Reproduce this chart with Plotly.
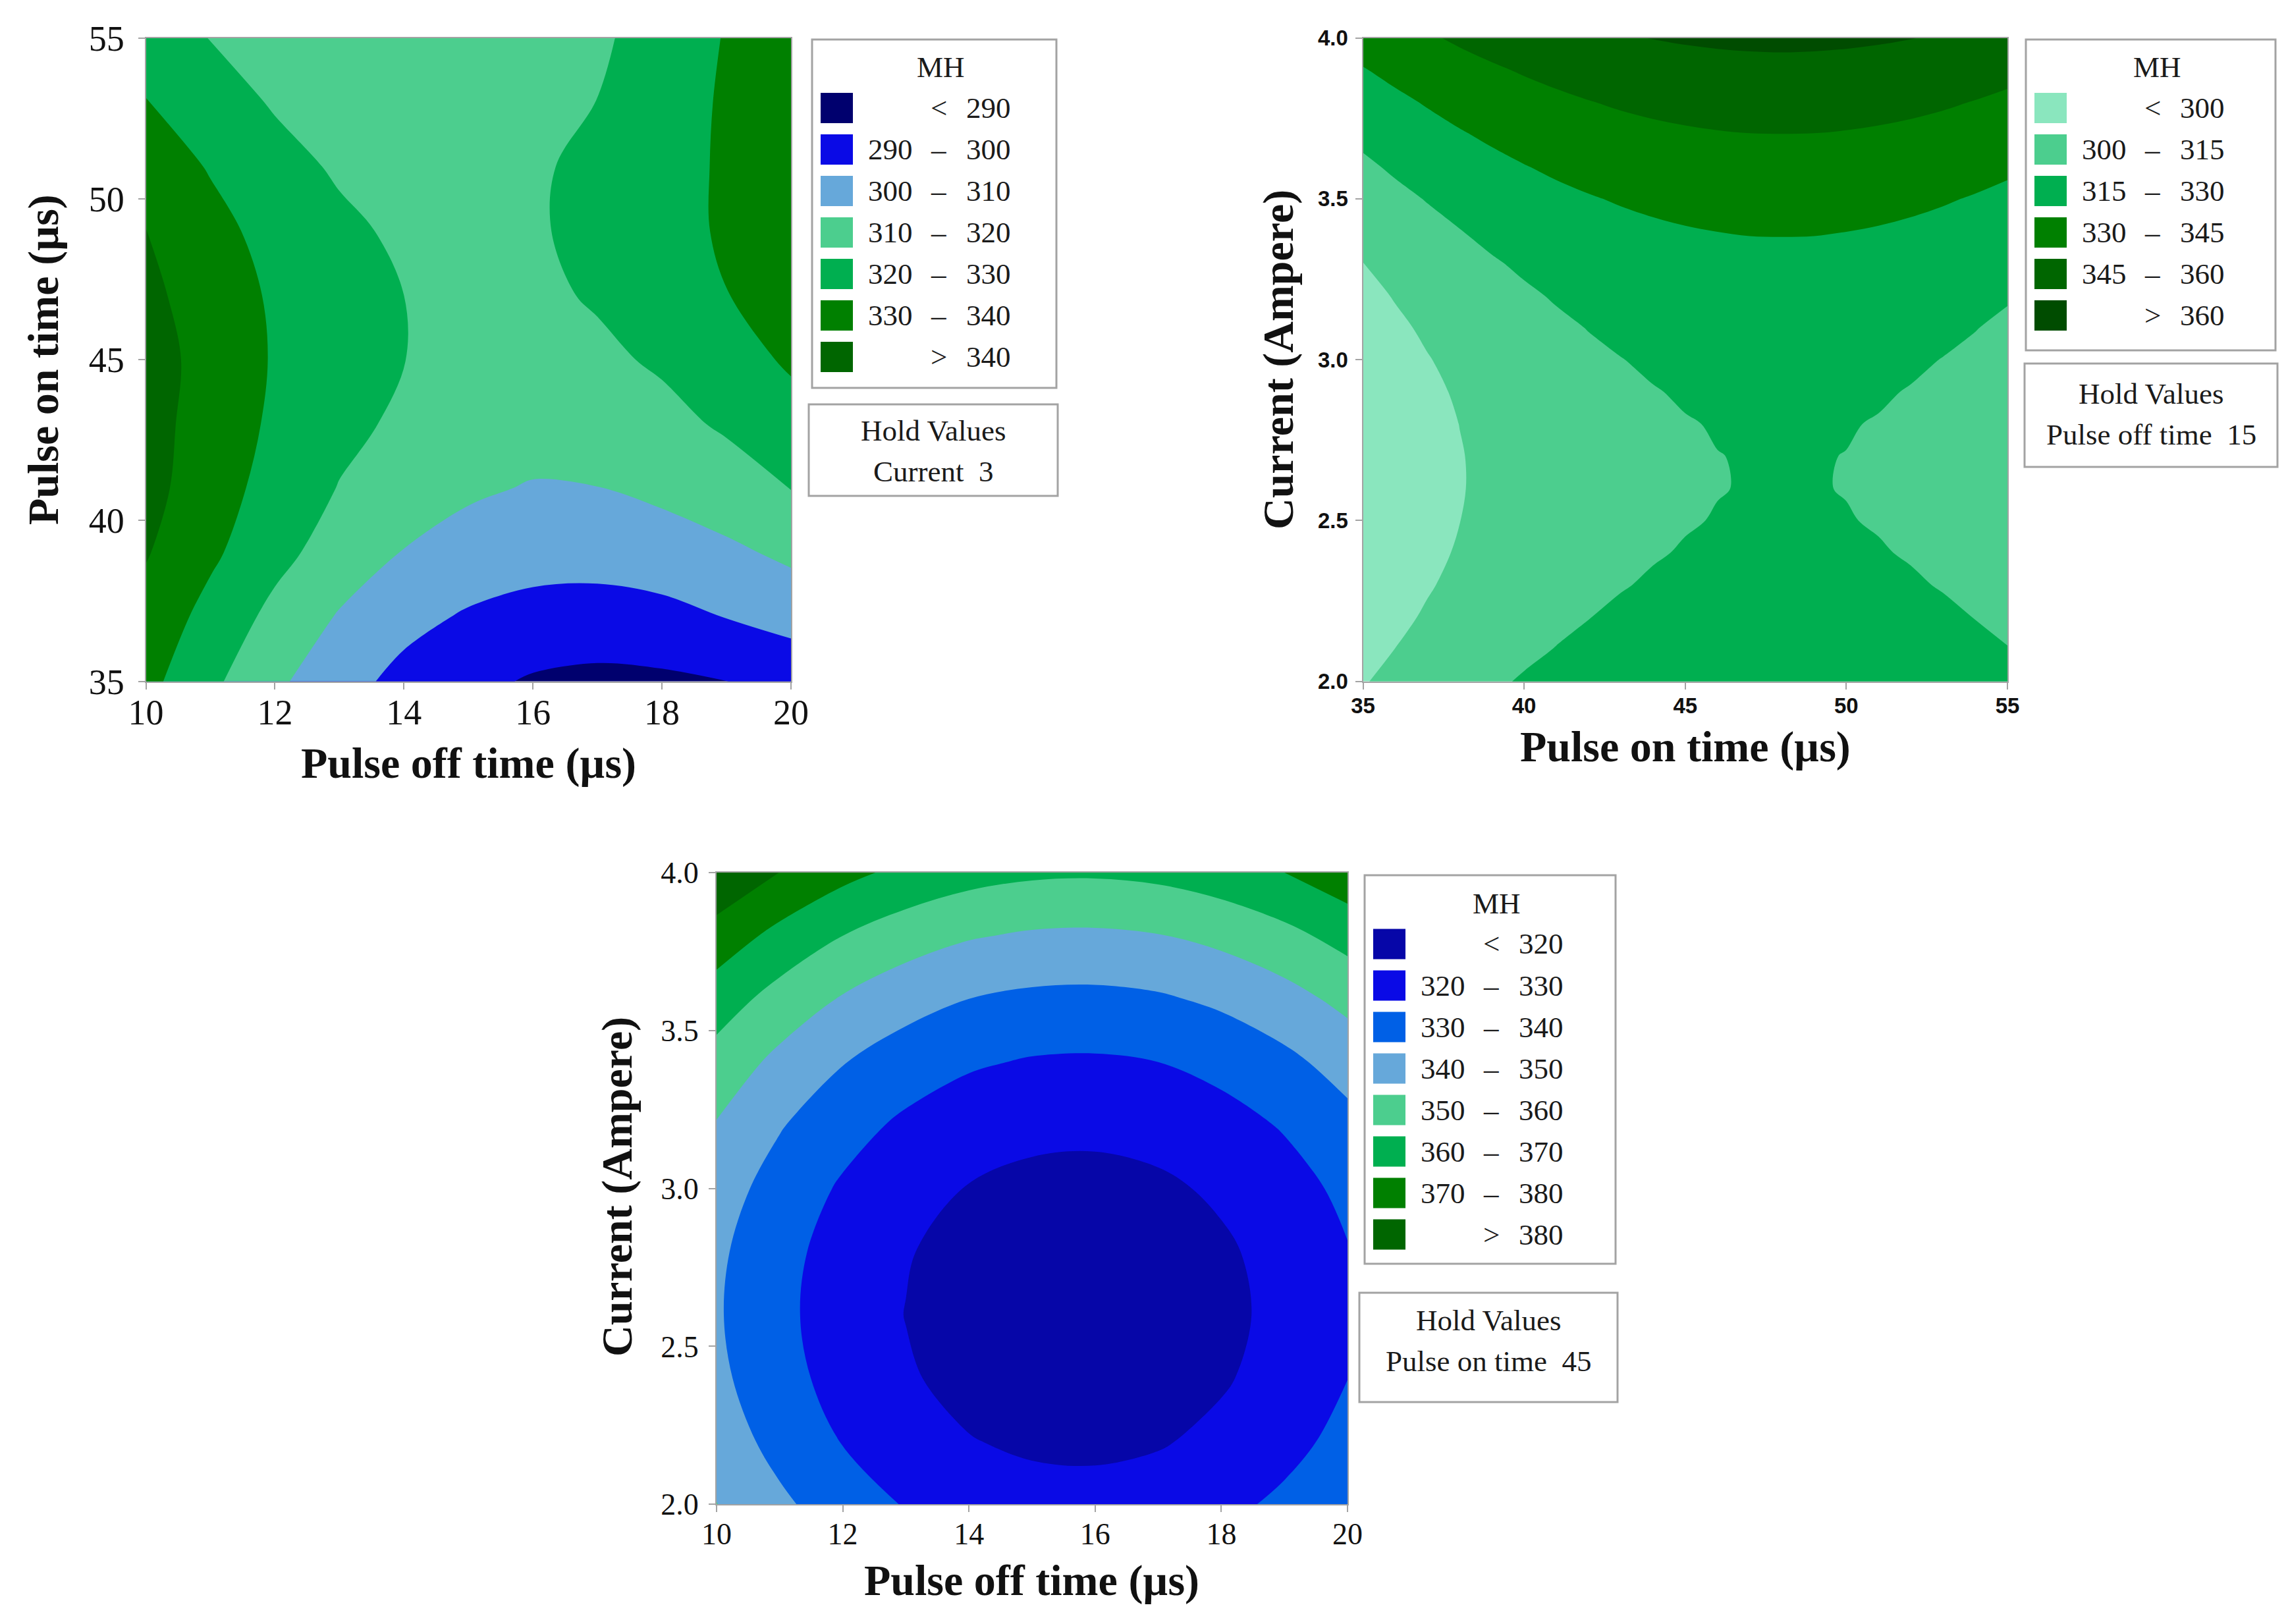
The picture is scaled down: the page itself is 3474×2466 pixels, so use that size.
import plotly.graph_objects as go

# ---------------- data ----------------
# Panel 1: MH vs Pulse off time (x) and Pulse on time (y), Current held at 3
off_time_1 = [10, 11, 12, 13, 14, 15, 16, 17, 18, 19, 20]
on_time_1 = [35, 37, 39, 41, 43, 45, 47, 49, 51, 53, 55]
mh_1 = [
    [332.9, 322.1, 311.9, 303.6, 297.2, 292.5, 289.0, 287.6, 288.2, 289.9, 293.0],
    [336.5, 326.8, 317.3, 309.2, 302.9, 298.9, 296.5, 296.0, 297.3, 300.2, 303.5],
    [340.7, 331.8, 323.0, 315.5, 309.6, 305.9, 304.0, 303.7, 305.0, 308.0, 312.0],
    [343.3, 334.4, 326.4, 319.6, 315.0, 311.5, 309.3, 309.8, 312.3, 316.0, 320.2],
    [343.7, 335.7, 328.4, 322.5, 318.3, 315.8, 314.3, 315.1, 317.6, 321.1, 326.3],
    [344.3, 336.4, 329.2, 324.3, 320.1, 317.9, 317.0, 318.4, 321.1, 326.0, 331.3],
    [342.4, 335.2, 328.7, 324.0, 320.0, 318.0, 318.4, 320.8, 325.0, 329.8, 334.5],
    [340.2, 333.0, 326.7, 321.8, 318.5, 317.5, 319.0, 322.5, 326.5, 331.2, 336.0],
    [335.5, 329.3, 323.0, 318.9, 316.8, 316.8, 318.8, 322.2, 326.6, 331.2, 336.0],
    [330.3, 324.0, 319.2, 316.6, 315.0, 315.6, 317.6, 320.1, 325.5, 331.2, 336.0],
    [326.0, 319.7, 315.8, 313.2, 312.2, 312.6, 314.8, 318.5, 324.0, 330.6, 336.5],
]
levels_1 = [290, 300, 310, 320, 330, 340]
labels_1 = ["< 290", "290 – 300", "300 – 310", "310 – 320", "320 – 330", "330 – 340", "> 340"]
colors_1 = ["#00006E", "#0A0AE6", "#66A8DA", "#4CCE8E", "#00AF50", "#008000", "#006600"]
hold_1 = ["Hold Values", "Current\u00a0\u00a03"]
xticks_1 = [10, 12, 14, 16, 18, 20]
yticks_1 = [35, 40, 45, 50, 55]

# Panel 2: MH vs Pulse on time (x) and Current (y), Pulse off time held at 15
on_time_2 = [35, 36, 37, 38, 39, 40, 41, 42, 43, 44, 45,
             46, 47, 48, 49, 50, 51, 52, 53, 54, 55]
current_2 = [2.0, 2.1, 2.2, 2.3, 2.4, 2.5, 2.6, 2.7, 2.8, 2.9, 3.0,
             3.1, 3.2, 3.3, 3.4, 3.5, 3.6, 3.7, 3.8, 3.9, 4.0]
mh_2 = [
    [299.2, 303.2, 306.9, 310.2, 313.3, 316.0, 318.4, 320.5, 322.2, 323.7, 324.8, 325.6, 326.1, 326.2, 326.1, 325.6, 324.8, 323.7, 322.2, 320.5, 318.4],
    [296.1, 300.1, 303.8, 307.1, 310.2, 312.9, 315.3, 317.4, 319.1, 320.6, 321.7, 322.5, 323.0, 323.1, 323.0, 322.5, 321.7, 320.6, 319.1, 317.4, 315.3],
    [293.5, 297.5, 301.2, 304.5, 307.6, 310.3, 312.7, 314.8, 316.5, 318.0, 319.1, 319.9, 320.4, 320.5, 320.4, 319.9, 319.1, 318.0, 316.5, 314.8, 312.7],
    [291.4, 295.4, 299.1, 302.5, 305.5, 308.2, 310.6, 312.7, 314.5, 315.9, 317.0, 317.8, 318.3, 318.5, 318.3, 317.8, 317.0, 315.9, 314.5, 312.7, 310.6],
    [289.9, 293.9, 297.6, 300.9, 304.0, 306.7, 309.1, 311.2, 312.9, 314.4, 315.5, 316.3, 316.8, 316.9, 316.8, 316.3, 315.5, 314.4, 312.9, 311.2, 309.1],
    [288.9, 292.9, 296.6, 299.9, 303.0, 305.7, 308.1, 310.2, 311.9, 313.4, 314.5, 315.3, 315.8, 315.9, 315.8, 315.3, 314.5, 313.4, 311.9, 310.2, 308.1],
    [288.4, 292.4, 296.1, 299.4, 302.5, 305.2, 307.6, 309.7, 311.4, 312.9, 314.0, 314.8, 315.3, 315.4, 315.3, 314.8, 314.0, 312.9, 311.4, 309.7, 307.6],
    [288.5, 292.5, 296.1, 299.5, 302.5, 305.3, 307.7, 309.7, 311.5, 312.9, 314.1, 314.9, 315.3, 315.5, 315.3, 314.9, 314.1, 312.9, 311.5, 309.7, 307.7],
    [289.0, 293.0, 296.7, 300.1, 303.1, 305.8, 308.2, 310.3, 312.1, 313.5, 314.6, 315.4, 315.9, 316.1, 315.9, 315.4, 314.6, 313.5, 312.1, 310.3, 308.2],
    [290.2, 294.2, 297.8, 301.2, 304.2, 307.0, 309.4, 311.4, 313.2, 314.6, 315.8, 316.6, 317.0, 317.2, 317.0, 316.6, 315.8, 314.6, 313.2, 311.4, 309.4],
    [291.8, 295.8, 299.5, 302.8, 305.9, 308.6, 311.0, 313.1, 314.8, 316.3, 317.4, 318.2, 318.7, 318.8, 318.7, 318.2, 317.4, 316.3, 314.8, 313.1, 311.0],
    [294.0, 298.0, 301.7, 305.0, 308.1, 310.8, 313.2, 315.3, 317.0, 318.5, 319.6, 320.4, 320.9, 321.0, 320.9, 320.4, 319.6, 318.5, 317.0, 315.3, 313.2],
    [296.7, 300.7, 304.4, 307.7, 310.8, 313.5, 315.9, 318.0, 319.7, 321.2, 322.3, 323.1, 323.6, 323.7, 323.6, 323.1, 322.3, 321.2, 319.7, 318.0, 315.9],
    [299.9, 303.9, 307.6, 310.9, 314.0, 316.7, 319.1, 321.2, 322.9, 324.4, 325.5, 326.3, 326.8, 326.9, 326.8, 326.3, 325.5, 324.4, 322.9, 321.2, 319.1],
    [303.7, 307.7, 311.4, 314.7, 317.8, 320.5, 322.9, 325.0, 326.7, 328.2, 329.3, 330.1, 330.6, 330.7, 330.6, 330.1, 329.3, 328.2, 326.7, 325.0, 322.9],
    [308.0, 312.0, 315.6, 319.0, 322.0, 324.8, 327.2, 329.2, 331.0, 332.4, 333.6, 334.4, 334.8, 335.0, 334.8, 334.4, 333.6, 332.4, 331.0, 329.2, 327.2],
    [312.8, 316.8, 320.5, 323.8, 326.9, 329.6, 332.0, 334.1, 335.8, 337.3, 338.4, 339.2, 339.7, 339.8, 339.7, 339.2, 338.4, 337.3, 335.8, 334.1, 332.0],
    [317.9, 321.9, 325.6, 329.0, 332.0, 334.7, 337.1, 339.2, 341.0, 342.4, 343.5, 344.3, 344.8, 344.9, 344.8, 344.3, 343.5, 342.4, 341.0, 339.2, 337.1],
    [323.3, 327.3, 331.0, 334.4, 337.4, 340.1, 342.5, 344.6, 346.4, 347.8, 348.9, 349.7, 350.2, 350.4, 350.2, 349.7, 348.9, 347.8, 346.4, 344.6, 342.5],
    [329.3, 333.3, 337.0, 340.4, 343.4, 346.1, 348.5, 350.6, 352.4, 353.8, 354.9, 355.7, 356.2, 356.4, 356.2, 355.7, 354.9, 353.8, 352.4, 350.6, 348.5],
    [335.8, 339.8, 343.5, 346.9, 349.9, 352.6, 355.0, 357.1, 358.9, 360.3, 361.4, 362.2, 362.7, 362.9, 362.7, 362.2, 361.4, 360.3, 358.9, 357.1, 355.0],
]
levels_2 = [300, 315, 330, 345, 360]
labels_2 = ["< 300", "300 – 315", "315 – 330", "330 – 345", "345 – 360", "> 360"]
colors_2 = ["#8AE6BE", "#4CCE8E", "#00AF50", "#008000", "#006600", "#004C00"]
hold_2 = ["Hold Values", "Pulse off time\u00a0\u00a015"]
xticks_2 = [35, 40, 45, 50, 55]
yticks_2 = [2.0, 2.5, 3.0, 3.5, 4.0]

# Panel 3: MH vs Pulse off time (x) and Current (y), Pulse on time held at 45
off_time_3 = [10, 11, 12, 13, 14, 15, 16, 17, 18, 19, 20]
current_3 = [2.0, 2.2, 2.4, 2.6, 2.8, 3.0, 3.2, 3.4, 3.6, 3.8, 4.0]
mh_3 = [
    [350.2, 341.9, 334.8, 329.4, 325.6, 323.6, 323.2, 324.4, 327.4, 332.0, 338.3],
    [345.4, 336.7, 329.6, 324.2, 320.4, 318.4, 318.0, 319.2, 322.2, 326.8, 333.1],
    [342.2, 333.5, 326.4, 321.0, 317.2, 315.2, 314.8, 316.0, 319.0, 323.6, 329.9],
    [341.0, 332.3, 325.2, 319.8, 316.0, 314.0, 313.6, 314.8, 317.8, 322.4, 328.7],
    [341.8, 333.1, 326.0, 320.6, 316.8, 314.8, 314.4, 315.6, 318.6, 323.2, 329.5],
    [344.6, 335.9, 328.8, 323.4, 319.6, 317.6, 317.2, 318.4, 321.4, 326.0, 332.3],
    [349.4, 340.7, 333.6, 328.2, 324.4, 322.4, 322.0, 323.2, 326.2, 330.8, 337.1],
    [356.2, 347.5, 340.4, 335.0, 331.2, 329.2, 328.8, 330.0, 333.0, 337.6, 343.9],
    [365.0, 356.3, 349.2, 343.8, 340.0, 338.0, 337.6, 338.8, 341.8, 346.4, 352.7],
    [375.8, 367.1, 360.0, 354.6, 350.8, 348.8, 348.4, 349.6, 352.6, 357.2, 363.5],
    [388.6, 379.9, 372.8, 367.4, 363.6, 361.6, 361.2, 362.4, 365.4, 370.0, 376.3],
]
levels_3 = [320, 330, 340, 350, 360, 370, 380]
labels_3 = ["< 320", "320 – 330", "330 – 340", "340 – 350", "350 – 360", "360 – 370", "370 – 380", "> 380"]
colors_3 = ["#0606A8", "#0A0AE6", "#0060E6", "#66A8DA", "#4CCE8E", "#00AF50", "#008000", "#006600"]
hold_3 = ["Hold Values", "Pulse on time\u00a0\u00a045"]
xticks_3 = [10, 12, 14, 16, 18, 20]
yticks_3 = [2.0, 2.5, 3.0, 3.5, 4.0]

legend_title = "MH"

# ---------------- layout helpers ----------------
W, H = 3474, 2466


def fx(p):
    return p / W


def fy(p):
    return 1 - p / H


SERIF = "Liberation Serif, Times New Roman, serif"
NARROW = "Liberation Sans Narrow, Arial Narrow, Liberation Sans, sans-serif"
GRAY = "#a3a3a3"
TITLE_SIZE = 66

panels = [
    dict(x=off_time_1, y=on_time_1, z=mh_1, levels=levels_1, labels=labels_1, colors=colors_1,
         hold=hold_1, xticks=xticks_1, yticks=yticks_1, yfmt="",
         xtitle="Pulse off time (µs)", ytitle="Pulse on time (µs)",
         dom_x=(221.6, 1201.0), dom_y=(57.6, 1034.7),
         tickfont=dict(family=SERIF, size=54, color="#111111"), xstand=-12, ystand=10,
         xt_pos=(711, 1159), yt_pos=(66, 546),
         box=(1233, 1604, 60, 589), hold_box=(1228, 1606, 614, 753), hold_y=(653.6, 715.6),
         row0=164),
    dict(x=on_time_2, y=current_2, z=mh_2, levels=levels_2, labels=labels_2, colors=colors_2,
         hold=hold_2, xticks=xticks_2, yticks=yticks_2, yfmt=".1f",
         xtitle="Pulse on time (µs)", ytitle="Current (Ampere)",
         dom_x=(2069.5, 3048.0), dom_y=(57.6, 1034.7),
         tickfont=dict(family=NARROW, size=33, color="#111111", weight="bold"), xstand=-3, ystand=4,
         xt_pos=(2559, 1134), yt_pos=(1941, 546),
         box=(3076, 3455, 60, 532), hold_box=(3074, 3458, 552, 709), hold_y=(598, 660),
         row0=164),
    dict(x=off_time_3, y=current_3, z=mh_3, levels=levels_3, labels=labels_3, colors=colors_3,
         hold=hold_3, xticks=xticks_3, yticks=yticks_3, yfmt=".1f",
         xtitle="Pulse off time (µs)", ytitle="Current (Ampere)",
         dom_x=(1088.0, 2046.0), dom_y=(1325.0, 2284.3),
         tickfont=dict(family=SERIF, size=46, color="#111111"), xstand=-7, ystand=6,
         xt_pos=(1566, 2400), yt_pos=(937, 1802),
         box=(2072, 2453, 1329, 1919), hold_box=(2064, 2456, 1963, 2129), hold_y=(2005, 2067),
         row0=1433.5),
]

ROW_STEP = 63
fig = go.Figure()
shapes = []
annotations = []
layout_axes = {}

for i, p in enumerate(panels, start=1):
    xa = "x" if i == 1 else f"x{i}"
    ya = "y" if i == 1 else f"y{i}"
    lv = p["levels"]
    step = lv[1] - lv[0]
    n = len(p["colors"])
    cscale = [[k / (n - 1), c] for k, c in enumerate(p["colors"])]
    fig.add_trace(go.Contour(
        x=p["x"], y=p["y"], z=p["z"], xaxis=xa, yaxis=ya,
        autocontour=False,
        contours=dict(start=lv[0], end=lv[-1], size=step, coloring="fill", showlines=False),
        colorscale=cscale, showscale=False,
        line=dict(width=0, smoothing=1.0),
        hoverinfo="skip",
    ))
    axis_common = dict(showgrid=False, zeroline=False, showline=True, mirror=True,
                       linecolor=GRAY, linewidth=2, ticks="outside", ticklen=10,
                       tickwidth=2, tickcolor=GRAY, tickfont=p["tickfont"],
                       automargin=False)
    xkey = "xaxis" if i == 1 else f"xaxis{i}"
    ykey = "yaxis" if i == 1 else f"yaxis{i}"
    layout_axes[xkey] = dict(axis_common, domain=[fx(p["dom_x"][0]), fx(p["dom_x"][1])],
                             anchor=ya, range=[p["x"][0], p["x"][-1]],
                             tickmode="array", tickvals=p["xticks"],
                             ticklabelstandoff=p["xstand"])
    layout_axes[ykey] = dict(axis_common, domain=[fy(p["dom_y"][1]), fy(p["dom_y"][0])],
                             anchor=xa, range=[p["y"][0], p["y"][-1]],
                             tickmode="array", tickvals=p["yticks"],
                             ticktext=[format(v, p["yfmt"]) for v in p["yticks"]],
                             ticklabelstandoff=p["ystand"])

    # axis titles
    annotations.append(dict(text="<b>" + p["xtitle"] + "</b>", x=fx(p["xt_pos"][0]), y=fy(p["xt_pos"][1]),
                            xref="paper", yref="paper", showarrow=False, xanchor="center", yanchor="middle",
                            font=dict(family=SERIF, size=TITLE_SIZE, color="#111111")))
    annotations.append(dict(text="<b>" + p["ytitle"] + "</b>", x=fx(p["yt_pos"][0]), y=fy(p["yt_pos"][1]),
                            xref="paper", yref="paper", showarrow=False, xanchor="center", yanchor="middle",
                            textangle=-90, font=dict(family=SERIF, size=TITLE_SIZE, color="#111111")))

    # legend box
    bl, br, bt, bb = p["box"]
    shapes.append(dict(type="rect", xref="paper", yref="paper", x0=fx(bl), x1=fx(br), y0=fy(bb), y1=fy(bt),
                       line=dict(color=GRAY, width=3), fillcolor="white", layer="above"))
    lfont = dict(family=SERIF, size=45, color="#1a1a1a")
    annotations.append(dict(text=legend_title, x=fx((bl + br) / 2 + 10), y=fy(p["row0"] - 62),
                            xref="paper", yref="paper", showarrow=False, xanchor="center", yanchor="middle",
                            font=lfont))
    for k, (lab, col) in enumerate(zip(p["labels"], p["colors"])):
        yc = p["row0"] + ROW_STEP * k
        shapes.append(dict(type="rect", xref="paper", yref="paper", x0=fx(bl + 13), x1=fx(bl + 62),
                           y0=fy(yc + 23), y1=fy(yc - 23), line=dict(width=0), fillcolor=col, layer="above"))
        parts = lab.split(" ")
        if len(parts) == 3:
            low, sym, high = parts
        else:
            low, (sym, high) = "", parts
        if low:
            annotations.append(dict(text=low, x=fx(bl + 155), y=fy(yc), xref="paper", yref="paper",
                                    showarrow=False, xanchor="right", yanchor="middle", font=lfont))
        annotations.append(dict(text=sym, x=fx(bl + 192), y=fy(yc), xref="paper", yref="paper",
                                showarrow=False, xanchor="center", yanchor="middle", font=lfont))
        annotations.append(dict(text=high, x=fx(bl + 304), y=fy(yc), xref="paper", yref="paper",
                                showarrow=False, xanchor="right", yanchor="middle", font=lfont))

    # hold-values box
    hl, hr, ht, hb = p["hold_box"]
    shapes.append(dict(type="rect", xref="paper", yref="paper", x0=fx(hl), x1=fx(hr), y0=fy(hb), y1=fy(ht),
                       line=dict(color=GRAY, width=3), fillcolor="white", layer="above"))
    for txt, yy in zip(p["hold"], p["hold_y"]):
        annotations.append(dict(text=txt, x=fx((hl + hr) / 2), y=fy(yy), xref="paper", yref="paper",
                                showarrow=False, xanchor="center", yanchor="middle", font=lfont))

fig.update_layout(
    width=W, height=H, autosize=False,
    margin=dict(l=0, r=0, t=0, b=0),
    paper_bgcolor="white", plot_bgcolor="white",
    showlegend=False,
    shapes=shapes, annotations=annotations,
    **layout_axes,
)

fig.write_html("out.html", config={"displayModeBar": False},
               post_script="document.body.style.margin='0';document.body.style.overflow='hidden';")
